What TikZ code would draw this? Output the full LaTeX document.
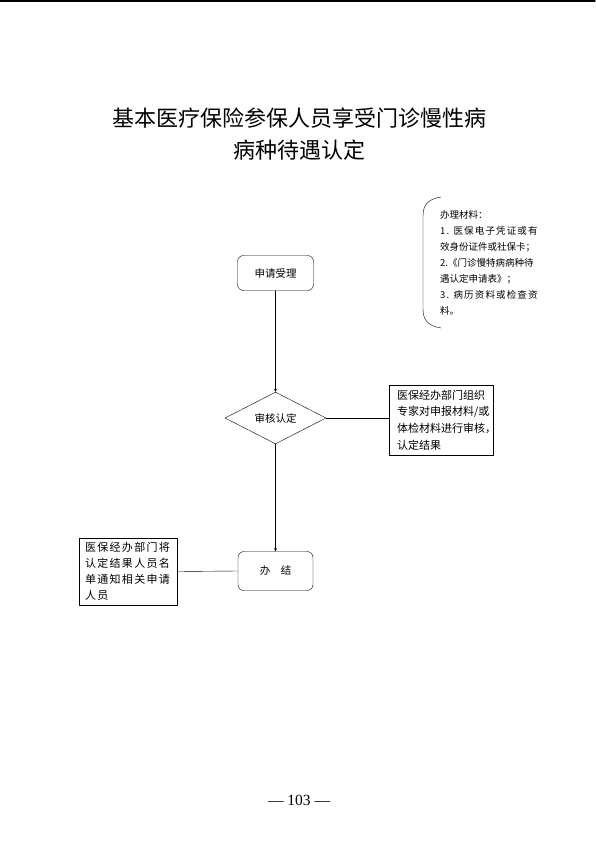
\documentclass[tikz,border=0pt]{standalone}
\usepackage{fontspec}
\setmainfont{Liberation Serif}
\newfontfamily\cjk{Noto Sans CJK SC}
\newfontfamily\cjkwide[LetterSpace=12]{Noto Sans CJK SC}
\usetikzlibrary{shapes.geometric,positioning}

\begin{document}
\begin{tikzpicture}[x=1pt,y=-1pt,font=\cjk\fontsize{10.5}{16}\selectfont,line join=round,line cap=round,>=stealth,
	stepbox/.style={draw,rounded corners=6pt,minimum width=76pt,minimum height=35pt},
	notebox/.style={draw,align=left,inner sep=0pt}]
	\useasboundingbox (0,0) rectangle (595,841);
	\path 
	(441,197) coordinate (BT) (423,216) coordinate (BU)
	(423,309) coordinate (BD) (441,328) coordinate (BB)
	;
	\draw[line width=1.2pt] (0,1)--(595,1);
	% title
	\node[font=\cjk\fontsize{22}{32}\selectfont,align=center] (title) at (299,134)
	{基本医疗保险参保人员享受门诊慢性病\\病种待遇认定};
	% materials
	\node[anchor=north west,align=left,inner sep=0pt,font=\cjk\fontsize{9.5}{16}\selectfont] (mat) at (440,210)
	{办理材料：\\{\cjkwide 1. 医保电子凭证或有}\\效身份证件或社保卡；\\2.《门诊慢特病病种待\\遇认定申请表》；\\{\cjkwide 3. 病历资料或检查资}\\料。};
	\draw (BT) .. controls (428,199) and (423,205) .. (BU) -- (BD) .. controls (423,320) and (428,326) .. (BB);
	% flow
	\node[stepbox] (apply) at (275.5,273) {申请受理};
	\node[draw,diamond,minimum width=101pt,minimum height=42pt,inner sep=0pt] (check) at (275.5,418) {审核认定};
	\node[stepbox,minimum width=75pt,minimum height=39pt] (done) at (275.5,571) {办\quad 结};
	\node[notebox,minimum width=104pt,minimum height=70pt,text width=88pt,font=\cjk\fontsize{11}{16.7}\selectfont] (rnote) at (441,420)
	{医保经办部门组织\\专家对申报材料/或\\体检材料进行审核，\\认定结果};
	\node[notebox,minimum width=98pt,minimum height=67pt,text width=86pt,font=\cjkwide\fontsize{11}{16}\selectfont] (lnote) at (128,571.5)
	{医保经办部门将\\认定结果人员名\\单通知相关申请\\人员};
	\draw[->] (apply.south)--(check.north);
	\draw[->] (check.south)--(done.north);
	\draw (check.east)--(check.east -| rnote.west);
	\draw (lnote.east)--(done.west);
	% page number
	\node[font=\fontsize{15.5}{16}\selectfont] (pg) at (299,800) {— 103 —};
\end{tikzpicture}
\end{document}
